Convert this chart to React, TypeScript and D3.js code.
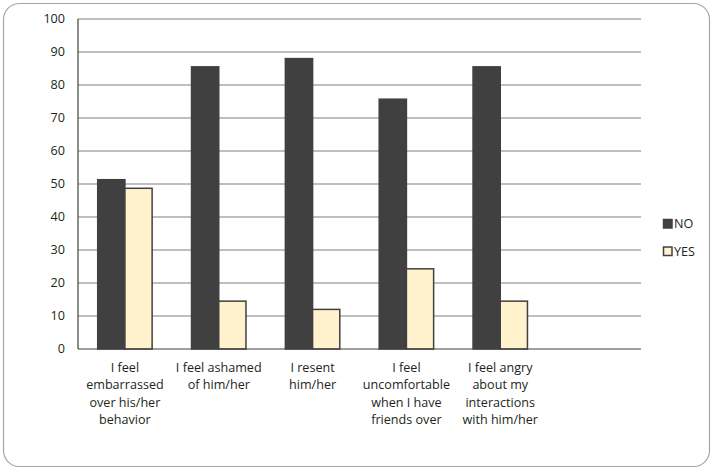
import React from "react";
import * as d3 from "d3";

// Survey responses (percent) for each statement
const categories: string[][] = [
  ["I feel", "embarrassed", "over his/her", "behavior"],
  ["I feel ashamed", "of him/her"],
  ["I resent", "him/her"],
  ["I feel", "uncomfortable", "when I have", "friends over"],
  ["I feel angry", "about my", "interactions", "with him/her"],
];
const noValues = [51.3, 85.5, 88.0, 75.7, 85.5];
const yesValues = [48.7, 14.5, 12.0, 24.3, 14.5];
const seriesNames = ["NO", "YES"];
const seriesColors = ["#404040", "#fff2cc"];
const yTicks = [0, 10, 20, 30, 40, 50, 60, 70, 80, 90, 100];

const W = 714;
const H = 472;
const plot = { left: 78, right: 641, top: 19, bottom: 349 };
const FONT = "'Open Sans', 'Lato', sans-serif";
const FS = 12.6;

export default function App() {
  // six slots across the plot; the last one is left empty
  const slots = d3.range(6).map(String);
  const x = d3.scaleBand<string>().domain(slots).range([plot.left, plot.right]);
  const y = d3.scaleLinear().domain([0, 100]).range([plot.bottom, plot.top]);
  const barW = x.bandwidth() * 0.29;

  const series = [noValues, yesValues];

  return (
    <svg
      width={W}
      height={H}
      style={{ position: "absolute", left: 0, top: 0, background: "#fff" }}
      fontFamily={FONT}
    >
      <rect x={3.5} y={3.5} width={706} height={463} rx={16} ry={16} fill="#fff" stroke="#a6a6a6" strokeWidth={1.2} />

      {yTicks.map((t) => (
        <g key={t}>
          {t > 0 && (
            <line x1={plot.left} x2={plot.right} y1={y(t)} y2={y(t)} stroke="#7f7f7f" strokeWidth={1} />
          )}
          <text x={65} y={y(t)} dy="0.35em" textAnchor="end" fontSize={FS} fill="#231f20">
            {t}
          </text>
        </g>
      ))}

      {categories.map((c, i) => {
        const cx = (x(String(i)) as number) + x.bandwidth() / 2;
        return (
          <g key={i}>
            {series.map((vals, s) => {
              const bx = cx - barW + s * barW;
              return (
                <rect
                  key={s}
                  x={bx}
                  y={y(vals[i])}
                  width={barW}
                  height={y(0) - y(vals[i])}
                  fill={seriesColors[s]}
                  stroke="#404040"
                  strokeWidth={1.5}
                />
              );
            })}
            {c.map((line, k) => (
              <text key={k} x={cx} y={371.5 + k * 17.5} textAnchor="middle" fontSize={FS} fill="#231f20">
                {line}
              </text>
            ))}
          </g>
        );
      })}

      <line x1={plot.left} x2={plot.left} y1={plot.top} y2={plot.bottom} stroke="#404040" strokeWidth={1.2} />
      <line x1={plot.left} x2={plot.right} y1={plot.bottom} y2={plot.bottom} stroke="#404040" strokeWidth={1.2} />

      {seriesNames.map((n, s) => (
        <g key={n} transform={`translate(663, ${219 + s * 27.5})`}>
          <rect x={0.5} y={0.5} width={8.5} height={8.5} fill={seriesColors[s]} stroke="#404040" strokeWidth={1.5} />
          <text x={11} y={5} dy="0.35em" fontSize={FS} fill="#231f20">
            {n}
          </text>
        </g>
      ))}
    </svg>
  );
}
